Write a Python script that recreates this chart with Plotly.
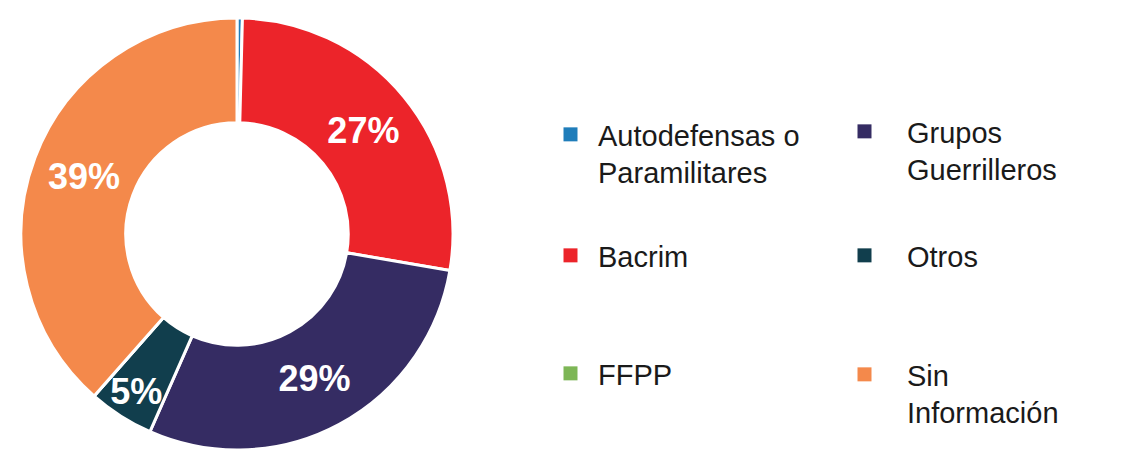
import plotly.graph_objects as go

categories = ["Autodefensas o Paramilitares", "Bacrim", "Grupos Guerrilleros", "Otros", "FFPP", "Sin Información"]
values = [0.4, 27.3, 28.9, 4.9, 0.0, 38.5]
slice_labels = ["", "27%", "29%", "5%", "", "39%"]
legend_labels = ["Autodefensas o<br>Paramilitares", "Bacrim", "Grupos<br>Guerrilleros", "Otros", "FFPP", "Sin<br>Información"]
colors = ["#1F7DBA", "#EC242A", "#352C63", "#113E4D", "#7DB656", "#F4894B"]

# legend column/row slots (col, row) in the order of categories
legend_slots = [(0, 0), (0, 1), (1, 0), (1, 1), (0, 2), (1, 2)]

W, H = 1129, 450
FONT = "Liberation Sans, Arial, sans-serif"
fig = go.Figure()

fig.add_trace(go.Pie(
    labels=categories,
    values=values,
    text=slice_labels,
    textinfo="text",
    textposition="inside",
    insidetextorientation="horizontal",
    insidetextfont=dict(family=FONT, size=36, color="white", weight="bold"),
    marker=dict(colors=colors, line=dict(color="white", width=3)),
    hole=0.515,
    sort=False,
    direction="clockwise",
    rotation=0,
    showlegend=False,
    hoverinfo="skip",
    domain=dict(x=[19 / W, 455 / W], y=[0, 0.96]),
))

col_x = [543, 822]
col_itemwidth = [45, 75]
row_y = [[109, 230, 348], [106, 230, 349]]
layout_legends = {}
for i, (cat, lab, col) in enumerate(zip(categories, legend_labels, colors)):
    c, r = legend_slots[i]
    key = "legend" if i == 0 else f"legend{i + 1}"
    fig.add_trace(go.Scatter(
        x=[None], y=[None], mode="markers", name=lab,
        marker=dict(symbol="square", size=14, color=col),
        legend=key, showlegend=True,
    ))
    layout_legends[key] = dict(
        x=col_x[c] / W, y=1 - row_y[c][r] / H, xanchor="left", yanchor="top",
        bgcolor="rgba(0,0,0,0)", borderwidth=0, valign="top",
        itemwidth=col_itemwidth[c],
        font=dict(family=FONT, size=29, color="#1a1a1a"),
    )

fig.update_layout(
    width=W, height=H,
    margin=dict(l=0, r=0, t=0, b=0),
    paper_bgcolor="white", plot_bgcolor="white",
    xaxis=dict(visible=False), yaxis=dict(visible=False),
    uniformtext=dict(minsize=36, mode="show"),
    **layout_legends,
)

fig.write_html("out.html", config={"displayModeBar": False},
               post_script="document.body.style.margin='0';")
